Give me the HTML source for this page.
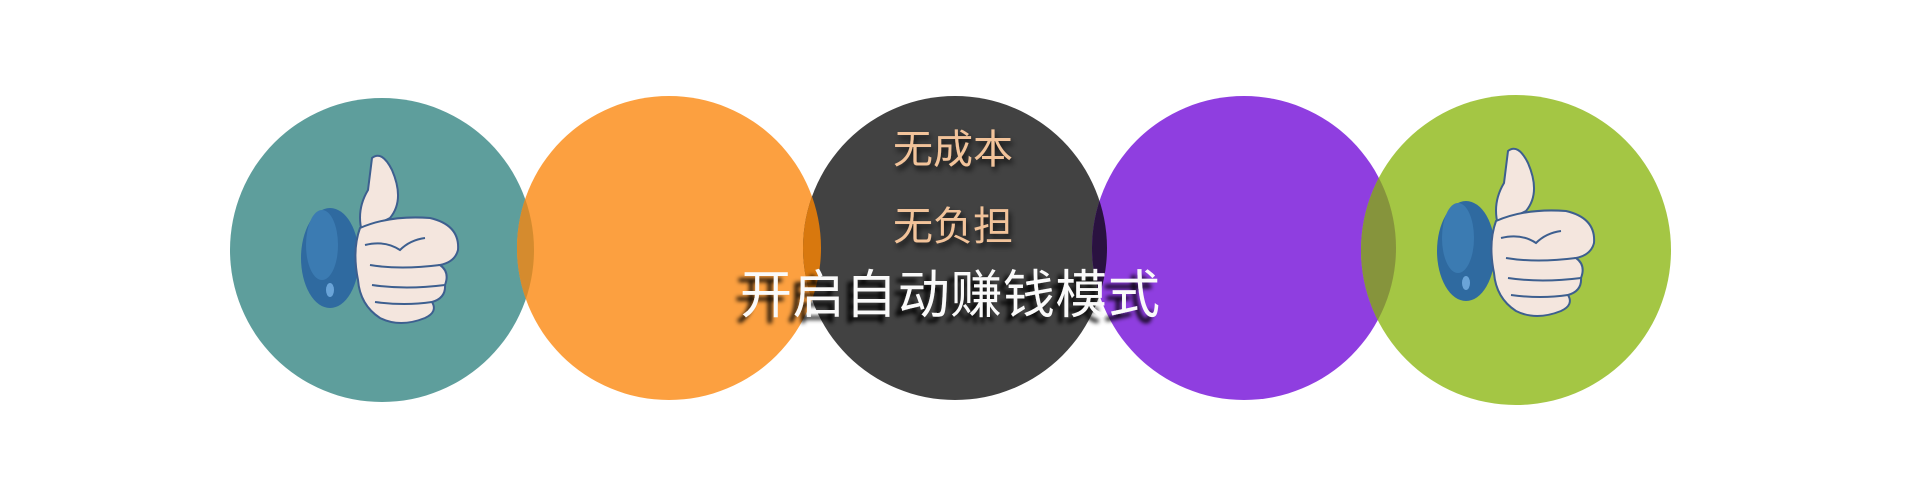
<!DOCTYPE html>
<html><head><meta charset="utf-8"><style>
html,body{margin:0;padding:0;background:#fff;}
svg{display:block}
.t{font-family:"Liberation Sans","Noto Sans CJK SC",sans-serif;}
</style></head><body>
<svg width="1920" height="500" viewBox="0 0 1920 500">
<defs>
  <clipPath id="cTeal"><circle cx="382" cy="250" r="152"/></clipPath>
  <clipPath id="cDark"><circle cx="955" cy="248" r="152"/></clipPath>
  <clipPath id="cPurple"><circle cx="1244" cy="248" r="152"/></clipPath>
  <filter id="sh1" x="-20%" y="-20%" width="140%" height="160%"><feDropShadow dx="2" dy="4" stdDeviation="3" flood-color="#000" flood-opacity="0.8"/></filter>
  <filter id="sh2" x="-10%" y="-20%" width="120%" height="160%"><feDropShadow dx="-6" dy="6" stdDeviation="2" flood-color="#000" flood-opacity="0.95"/></filter>
  <g id="thumb">
    <ellipse cx="330" cy="258" rx="29" ry="50" fill="#2f6aa0"/>
    <ellipse cx="322" cy="245" rx="16" ry="35" fill="#3b7bb2"/>
    <ellipse cx="330" cy="290" rx="4" ry="7" fill="#6aa4d8"/>
    <path d="M372 158 Q382 150 392 170 Q405 200 390 218 Q370 228 362 232 Q356 210 368 190 Z" fill="#f4e6de" stroke="#3d5f8f" stroke-width="2"/>
    <path d="M360 228 Q390 215 430 218 Q460 225 458 250 Q455 262 440 265 Q450 272 445 285 Q446 298 432 302 Q438 312 425 318 Q400 328 380 318 Q360 305 358 280 Q352 250 360 228 Z" fill="#f4e6de" stroke="#3d5f8f" stroke-width="2"/>
    <path d="M365 245 Q385 240 400 250 Q410 240 425 238" fill="none" stroke="#3d5f8f" stroke-width="2"/>
    <path d="M370 265 Q400 270 440 265 M372 285 Q405 290 445 285 M375 302 Q405 306 432 302" fill="none" stroke="#3d5f8f" stroke-width="2"/>
  </g>
</defs>
<circle cx="382" cy="250" r="152" fill="#5e9e9c"/>
<circle cx="669" cy="248" r="152" fill="#fca040"/>
<circle cx="669" cy="248" r="152" fill="#d58b2e" clip-path="url(#cTeal)"/>
<circle cx="955" cy="248" r="152" fill="#424242"/>
<circle cx="669" cy="248" r="152" fill="#d8780e" clip-path="url(#cDark)"/>
<circle cx="1244" cy="248" r="152" fill="#8f3ee0"/>
<circle cx="1244" cy="248" r="152" fill="#2a1240" clip-path="url(#cDark)"/>
<circle cx="1516" cy="250" r="155" fill="#a4c644"/>
<circle cx="1516" cy="250" r="155" fill="#86943c" clip-path="url(#cPurple)"/>
<use href="#thumb"/>
<use href="#thumb" transform="translate(1136,-7)"/>
<text class="t" x="953" y="163" font-size="40" fill="#f2c39a" text-anchor="middle" filter="url(#sh1)">无成本</text>
<text class="t" x="953" y="240" font-size="40" fill="#f2c39a" text-anchor="middle" filter="url(#sh1)">无负担</text>
<text class="t" x="950" y="313" font-size="52" fill="#fafafa" text-anchor="middle" textLength="420" filter="url(#sh2)">开启自动赚钱模式</text>
</svg>
</body></html>
